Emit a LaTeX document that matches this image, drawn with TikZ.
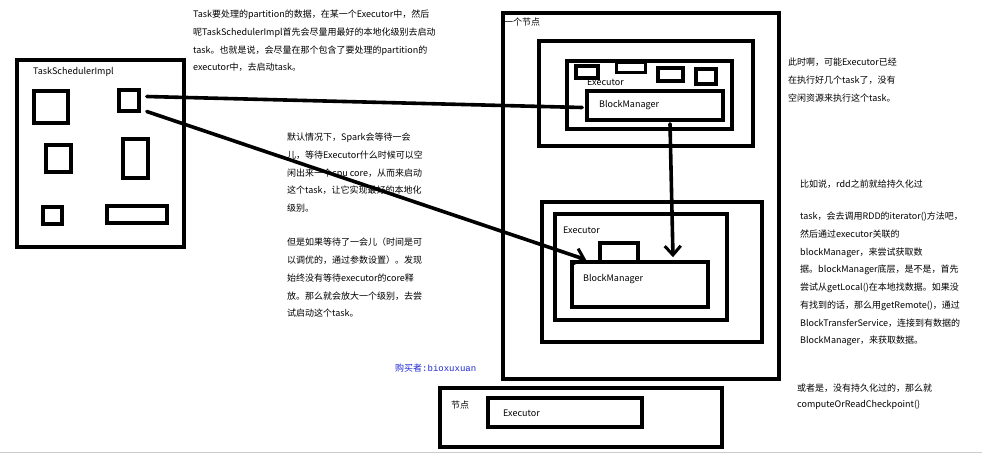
\documentclass[tikz,border=0pt]{standalone}
\usepackage{fontspec}
\setmainfont{Noto Sans CJK SC}
\newfontfamily\monofnt{Liberation Mono}
\usetikzlibrary{fit,arrows.meta,calc}
\definecolor{buyerblue}{RGB}{30,40,210}
\tikzset{
  box/.style={draw=black, line width=3.6pt, inner sep=0pt, fill=none},
  lbl/.style={inner sep=0pt, anchor=west, font=\fontsize{9}{11}\selectfont},
  txt/.style={inner sep=0pt, anchor=north west, align=left, font=\fontsize{9}{17.7}\selectfont},
  conn/.style={line width=3.6pt, line cap=round},
  barb/.style={-{Straight Barb[length=9pt,width=16pt,line width=3pt]}}
}
\begin{document}
\begin{tikzpicture}[x=1pt,y=-1pt]
\useasboundingbox (0,0) rectangle (982,456);
\draw[black!20, line width=1pt] (0,452.5) -- (982,452.5);

% TaskSchedulerImpl
\node[box, fit={(17,60) (184,247)}] (tsi) {};
\node[lbl] (tsil) at (33,72) {TaskSchedulerImpl};
\node[box, fit={(34,91) (68,123)}] (t1) {};
\node[box, fit={(119,90) (139,111)}] (sq) {};
\node[box, fit={(46,145) (71,172)}] (t3) {};
\node[box, fit={(123,139) (148,178)}] (t4) {};
\node[box, fit={(43,207) (62,224)}] (t5) {};
\node[box, fit={(107,206) (167,223)}] (t6) {};

% big node
\node[box, fit={(503,13) (779,379)}] (node1) {};
\node[lbl] (node1l) at (504,22) {一个节点};
% upper executor
\node[box, fit={(539,41) (753,146)}] (ex1o) {};
\node[box, fit={(567,61) (732,129)}] (ex1) {};
\node[box, fit={(576,66) (598,78)}] (s1) {};
\node[box, line width=3pt, fit={(616,62) (645,72)}] (s2) {};
\draw[line width=2.5pt] (s2.north west) -- (s2.north east);
\node[box, fit={(658,68) (683,81)}] (s3) {};
\node[box, fit={(696,69) (716,84)}] (s4) {};
\node[lbl] (ex1l) at (587,82) {Executor};
\node[box, fit={(587,91) (723,120)}] (bm1) {};
\node[lbl] (bm1l) at (599,105) {BlockManager};
% lower executor
\node[box, fit={(542,202) (762,342)}] (ex2o) {};
\node[box, fit={(555,214) (727,320)}] (ex2) {};
\node[lbl] (ex2l) at (563,230) {Executor};
\node[box, fit={(600,243) (638,262)}] (s5) {};
\node[box, fit={(572,262) (708,307)}] (bm2) {};
\node[lbl] (bm2l) at (583,279) {BlockManager};

% bottom node
\node[box, fit={(440,388) (722,447)}] (node2) {};
\node[lbl] (node2l) at (451,405) {节点};
\node[box, fit={(488,398) (642,427)}] (ex3) {};
\node[lbl] (ex3l) at (503,413) {Executor};

% connectors
\draw[conn] ($(sq.east)+(6,-4)$) -- ($(bm1.west)+(-3,2)$);
\draw[conn, barb] ($(sq.east)+(6,11)$) -- ($(s5.south west)+(-12,-4)$);
\draw[conn, barb] ($(bm1.south)+(15,2)$) -- ($(bm2.north)+(33,-3)$);

% texts
\node[txt] (tt) at (193,10) {Task要处理的partition的数据，在某一个Executor中，然后\\
呢TaskSchedulerImpl首先会尽量用最好的本地化级别去启动\\
task。也就是说，会尽量在那个包含了要处理的partition的\\
executor中，去启动task。};

\node[txt] (mt1) at (287,133) {默认情况下，Spark会等待一会\\
儿，等待Executor什么时候可以空\\
闲出来一个cpu core，从而来启动\\
这个task，让它实现最好的本地化\\
级别。};

\node[txt] (mt2) at (287,238) {但是如果等待了一会儿（时间是可\\
以调优的，通过参数设置）。发现\\
始终没有等待executor的core释\\
放。那么就会放大一个级别，去尝\\
试启动这个task。};

\node[lbl, text=buyerblue] (buyer) at (395,368) {购买者{\monofnt :bioxuxuan}};

\node[txt] (rt1) at (788,58) {此时啊，可能Executor已经\\
在执行好几个task了，没有\\
空闲资源来执行这个task。};

\node[txt] (rt2) at (800,180) {比如说，rdd之前就给持久化过};

\node[txt] (rt3) at (800,212) {task，会去调用RDD的iterator()方法吧，\\
然后通过executor关联的\\
blockManager，来尝试获取数\\
据。blockManager底层，是不是，首先\\
尝试从getLocal()在本地找数据。如果没\\
有找到的话，那么用getRemote()，通过\\
BlockTransferService，连接到有数据的\\
BlockManager，来获取数据。};

\node[txt, font=\fontsize{9}{16}\selectfont] (rt4) at (797,384) {或者是，没有持久化过的，那么就\\
computeOrReadCheckpoint()};
\end{tikzpicture}
\end{document}
